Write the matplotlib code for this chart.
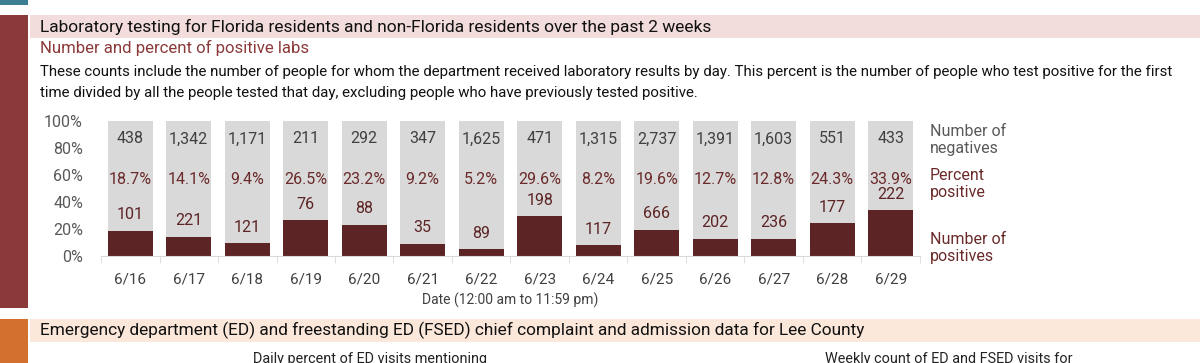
import numpy as np
import matplotlib
matplotlib.use('Agg')
import matplotlib.pyplot as plt
from matplotlib.patches import Rectangle

plt.rcParams['font.family'] = ['Roboto', 'DejaVu Sans']

# data
dates = ['6/16', '6/17', '6/18', '6/19', '6/20', '6/21', '6/22',
         '6/23', '6/24', '6/25', '6/26', '6/27', '6/28', '6/29']
negatives = [438, 1342, 1171, 211, 292, 347, 1625, 471, 1315, 2737, 1391, 1603, 551, 433]
positives = [101, 221, 121, 76, 88, 35, 89, 198, 117, 666, 202, 236, 177, 222]
pct_positive = [18.7, 14.1, 9.4, 26.5, 23.2, 9.2, 5.2, 29.6, 8.2, 19.6, 12.7, 12.8, 24.3, 33.9]
yticks = [0, 0.2, 0.4, 0.6, 0.8, 1.0]

W, H = 1200, 363
fig = plt.figure(figsize=(W / 100, H / 100), dpi=100)

def px(x, y):
    # pixel (from top-left) -> figure fraction
    return x / W, 1 - y / H

def rect(x0, y0, x1, y1, color):
    fig.add_artist(Rectangle((x0 / W, 1 - y1 / H), (x1 - x0) / W, (y1 - y0) / H,
                             transform=fig.transFigure, color=color, lw=0, zorder=0))

def fit_text(x, y, s, width, **kw):
    # shrink/grow font so the text spans about `width` pixels
    t = fig.text(*px(x, y), s, **kw)
    r = fig.canvas.get_renderer()
    w = t.get_window_extent(r).width
    t.set_fontsize(t.get_fontsize() * width / w)
    return t

# side bars and header bands
rect(0, 0, 28, 5, '#3c7f95')
rect(0, 15, 28, 308, '#8b3a3a')
rect(30, 15, W, 38, '#f2dcdc')
rect(0, 319, 28, H, '#d4702e')
rect(30, 319, W, 342, '#fce8da')

fit_text(40, 27, 'Laboratory testing for Florida residents and non-Florida residents over the past 2 weeks',
         670, fontsize=12, color='#111111', va='center')
fit_text(40, 48, 'Number and percent of positive labs', 268, fontsize=12, color='#8b3a3a', va='center')
fit_text(40, 72, 'These counts include the number of people for whom the department received laboratory results by day. '
         'This percent is the number of people who test positive for the first',
         1137, fontsize=10, color='#111111', va='center')
fit_text(40, 93, 'time divided by all the people tested that day, excluding people who have previously tested positive.',
         660, fontsize=10, color='#111111', va='center')
fit_text(40, 330, 'Emergency department (ED) and freestanding ED (FSED) chief complaint and admission data for Lee County',
         825, fontsize=12, color='#111111', va='center')
fit_text(253, 359, 'Daily percent of ED visits mentioning', 233, fontsize=11, color='#222222', va='center')
fit_text(825, 359, 'Weekly count of ED and FSED visits for', 245, fontsize=11, color='#222222', va='center')

# chart
ax = fig.add_axes([101 / W, 1 - 256 / H, 819 / W, 135 / H])
neg = np.array(negatives)
pos = np.array(positives)
total = neg + pos
pos_frac = pos / total
x = np.arange(len(dates))

ax.bar(x, pos_frac, width=0.77, color='#5c2424', zorder=2)
ax.bar(x, 1 - pos_frac, bottom=pos_frac, width=0.77, color='#d9d9d9', zorder=2)

for i in x:
    ax.text(i, 0.867, f'{negatives[i]:,}', ha='center', va='center', fontsize=11.5, color='#404040')
    ax.text(i, 0.563, f'{pct_positive[i]}%', ha='center', va='center', fontsize=11.5, color='#6b2a2a')
    ax.text(i, pos_frac[i] + 0.118, f'{positives[i]:,}', ha='center', va='center', fontsize=11.5, color='#5c2424')

ax.set_xlim(-0.5, len(dates) - 0.5)
ax.set_ylim(0, 1)
ax.set_yticks(yticks)
ax.set_yticklabels([f'{int(t * 100)}%' for t in yticks], fontsize=11.5, color='#595959')
ax.set_xticks(x)
ax.set_xticklabels(dates, fontsize=11, color='#404040')
ax.set_xticks(np.arange(-0.5, len(dates), 1), minor=True)
ax.tick_params(axis='x', which='major', length=0, pad=12)
ax.tick_params(axis='x', which='minor', length=5, color='#d9d9d9')
ax.tick_params(axis='y', length=0, pad=13)
for s in ['top', 'right', 'left']:
    ax.spines[s].set_visible(False)
ax.spines['bottom'].set_color('#d9d9d9')
ax.spines['bottom'].set_zorder(3)
ax.set_xlabel('Date (12:00 am to 11:59 pm)', fontsize=10, color='#404040', labelpad=4)

# right side labels
fig.text(*px(930, 140), 'Number of\nnegatives', fontsize=11.5, color='#595959', va='center', linespacing=1.2)
fig.text(*px(930, 184), 'Percent\npositive', fontsize=11.5, color='#6b2a2a', va='center', linespacing=1.2)
fig.text(*px(930, 248), 'Number of\npositives', fontsize=11.5, color='#6b2a2a', va='center', linespacing=1.2)

fig.savefig('out.png', dpi=100)
